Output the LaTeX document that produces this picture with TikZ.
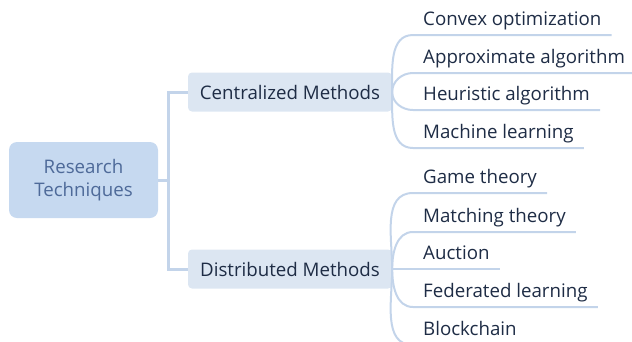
\documentclass[tikz,border=0pt]{standalone}
\usepackage{fontspec}
\setmainfont{Open Sans}
\usetikzlibrary{positioning}
\definecolor{branchline}{HTML}{C3D4EA}
\definecolor{rootfill}{HTML}{C6D9F0}
\definecolor{subfill}{HTML}{DCE6F2}
\definecolor{roottext}{HTML}{4E6A99}
\definecolor{leaftext}{HTML}{1E2C45}
\begin{document}
\begin{tikzpicture}[x=1pt,y=-1pt,
  every node/.style={font=\fontsize{18.7}{22.5}\selectfont},
  rootbox/.style={fill=rootfill,text=roottext,rounded corners=8pt,align=center,minimum width=149pt,minimum height=76pt},
  subbox/.style={fill=subfill,text=leaftext,rounded corners=4pt,minimum width=204pt,minimum height=39pt},
  leaf/.style={text=leaftext,anchor=south west,inner xsep=10pt,inner ysep=0pt,text depth=9pt},
  trunk/.style={draw=branchline,line width=3pt},
  twig/.style={draw=branchline,line width=2pt}]
\useasboundingbox (0,0) rectangle (632,341);
\node[rootbox] (root) at (83.5,180) {Research\\Techniques};
\node[subbox] (cent) at (290,92) {Centralized Methods};
\node[subbox] (dist) at (290,269) {Distributed Methods};
\coordinate (fork) at (168,180);
\draw[trunk] (root.east) -- (fork) |- (cent.west);
\draw[trunk] (fork) |- (dist.west);
\foreach \name/\ypos/\ang/\txt in {c1/35/90/Convex optimization,c2/73/90/Approximate algorithm,c3/110/-90/Heuristic algorithm,c4/148/-90/Machine learning}{
  \node[leaf] (\name) at (413,\ypos) {\txt};
  \draw[twig] (cent.east) to[out=\ang,in=180] (\name.south west) -- (\name.south east);
}
\foreach \name/\ypos/\ang/\txt in {d1/193/90/Game theory,d2/232/90/Matching theory,d3/269/0/Auction,d4/307/-90/Federated learning,d5/345/-90/Blockchain}{
  \node[leaf] (\name) at (413,\ypos) {\txt};
  \draw[twig] (dist.east) to[out=\ang,in=180] (\name.south west) -- (\name.south east);
}
\end{tikzpicture}
\end{document}
